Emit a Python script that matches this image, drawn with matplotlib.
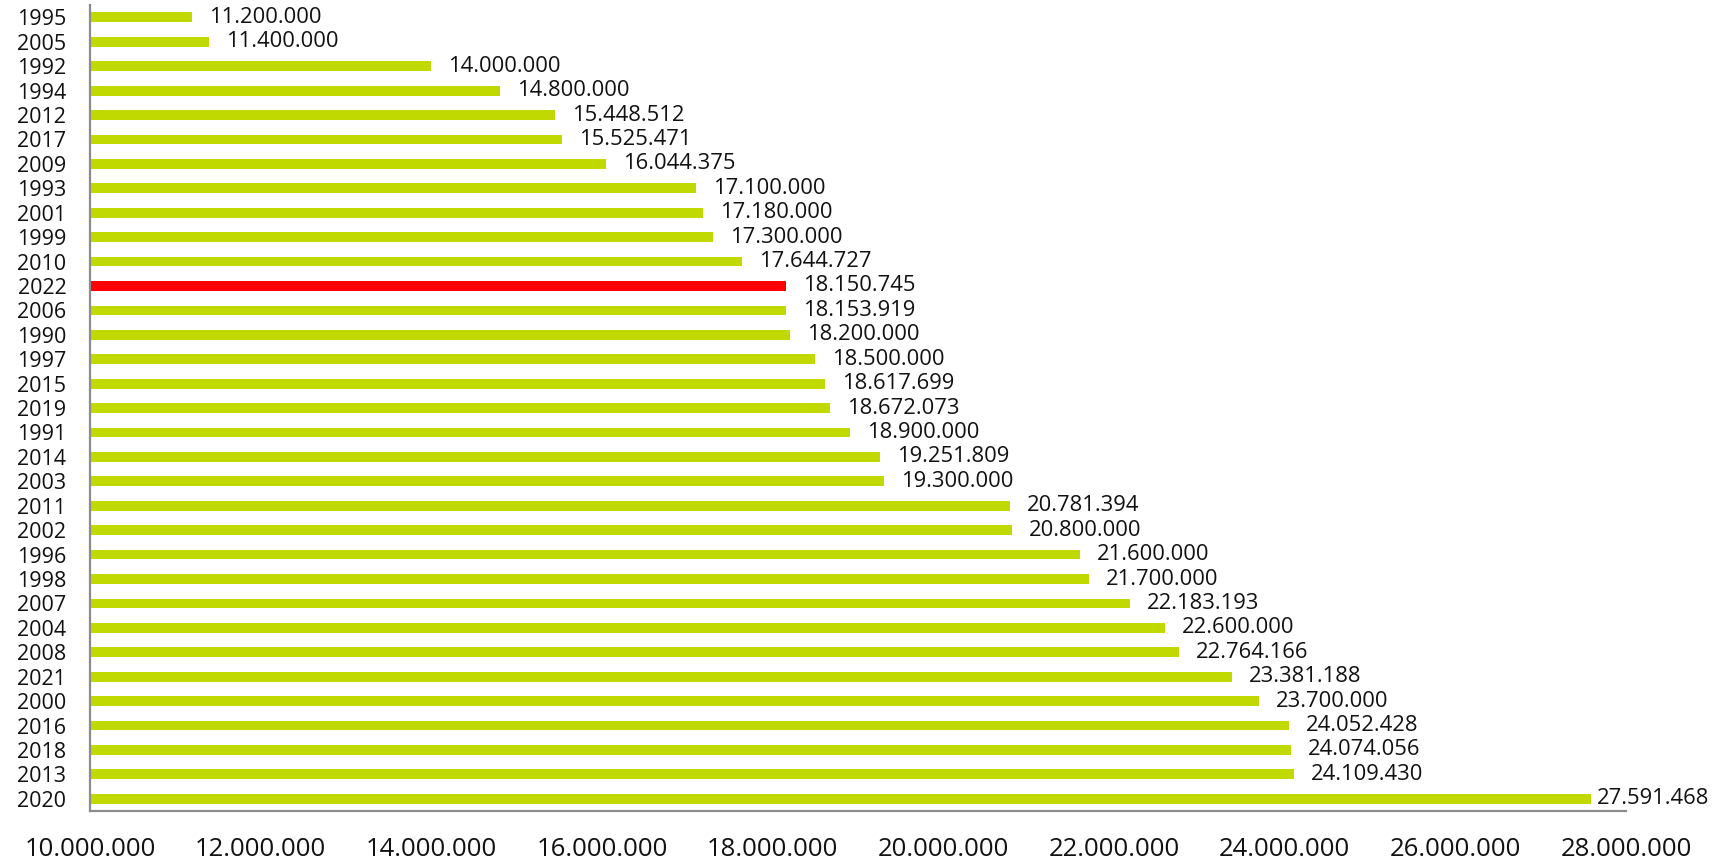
import matplotlib
matplotlib.use('Agg')
import matplotlib.pyplot as plt
from matplotlib.ticker import FuncFormatter

# data (top to bottom as in the chart)
tahun = ['1995', '2005', '1992', '1994', '2012', '2017', '2009', '1993', '2001', '1999',
         '2010', '2022', '2006', '1990', '1997', '2015', '2019', '1991', '2014', '2003',
         '2011', '2002', '1996', '1998', '2007', '2004', '2008', '2021', '2000', '2016',
         '2018', '2013', '2020']
nilai = [11200000, 11400000, 14000000, 14800000, 15448512, 15525471, 16044375, 17100000,
         17180000, 17300000, 17644727, 18150745, 18153919, 18200000, 18500000, 18617699,
         18672073, 18900000, 19251809, 19300000, 20781394, 20800000, 21600000, 21700000,
         22183193, 22600000, 22764166, 23381188, 23700000, 24052428, 24074056, 24109430,
         27591468]
sorot = '2022'
x_ticks = [10000000, 12000000, 14000000, 16000000, 18000000, 20000000, 22000000,
           24000000, 26000000, 28000000]

plt.rcParams['font.family'] = ['Open Sans', 'DejaVu Sans']


def titik(v):
    return f'{int(v):,}'.replace(',', '.')


fig = plt.figure(figsize=(17.3, 8.6), dpi=100)
ax = fig.add_axes([0.052, 0.057, 0.888, 0.937])

pos = list(range(len(tahun)))
warna = ['#FF0000' if t == sorot else '#C0D900' for t in tahun]
ax.barh(pos, [v - x_ticks[0] for v in nilai], left=x_ticks[0], height=0.4, color=warna)

for p, v in zip(pos, nilai):
    dx = 6 if v == max(nilai) else 17
    ax.annotate(titik(v), xy=(v, p), xytext=(dx * 0.72, 0), textcoords='offset points',
                va='center', ha='left', fontsize=15.8, color='#111111')

ax.set_xlim(x_ticks[0], x_ticks[-1])
ax.set_ylim(len(tahun) - 0.5, -0.5)
ax.set_xticks(x_ticks)
ax.xaxis.set_major_formatter(FuncFormatter(lambda v, _: titik(v)))
ax.set_yticks(pos)
ax.set_yticklabels(tahun)
ax.tick_params(axis='x', length=0, pad=19, labelsize=18.5, colors='#111111')
ax.tick_params(axis='y', length=0, pad=17, labelsize=15.5, colors='#111111')

for s in ['top', 'right']:
    ax.spines[s].set_visible(False)
for s in ['left', 'bottom']:
    ax.spines[s].set_color('#8C8C8C')
    ax.spines[s].set_linewidth(1.6)

plt.savefig('out.png', dpi=100)
